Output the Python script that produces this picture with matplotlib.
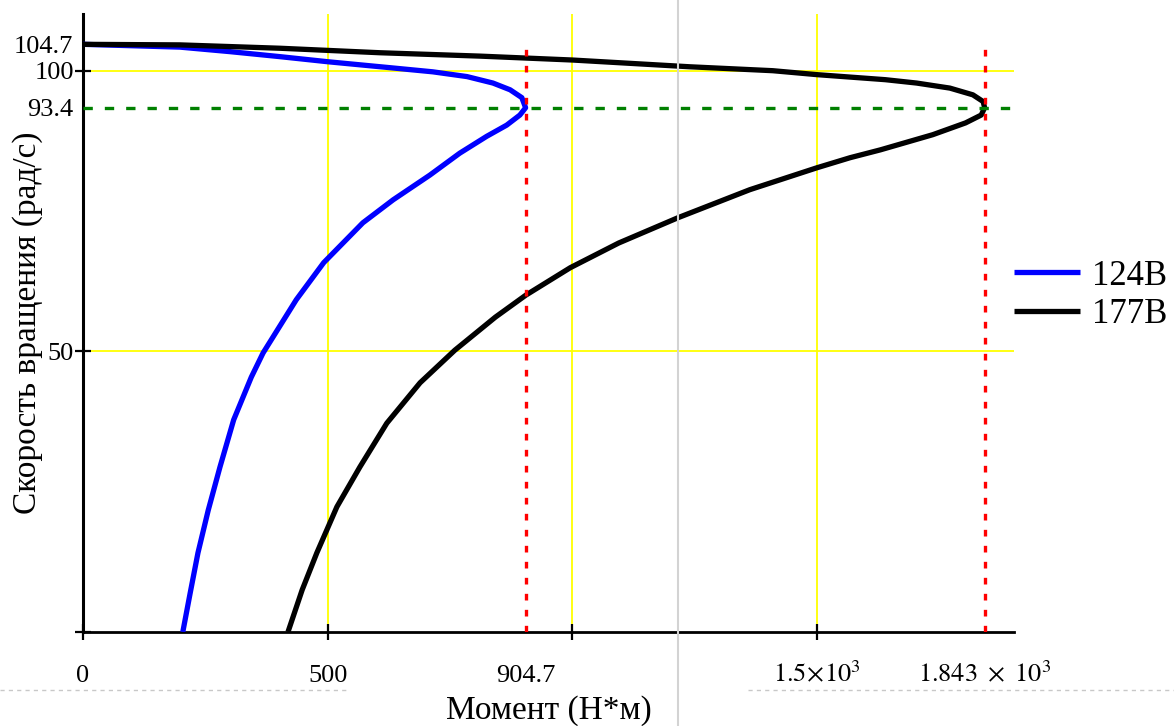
import numpy as np
import matplotlib.pyplot as plt
from matplotlib.lines import Line2D

plt.rcParams['font.family'] = ['Liberation Serif', 'DejaVu Serif']
plt.rcParams['mathtext.fontset'] = 'stix'

# speed (rad/s) and torque (N*m)
w_124 = [0, 6.9, 14.1, 21.7, 29.4, 37.8, 45.4, 49.7, 59.2, 65.8, 72.9, 77.0, 81.4,
         85.3, 88.3, 90.3, 92.1, 93.4, 95.2, 96.6, 97.8, 98.95, 99.8, 100.6,
         101.6, 102.5, 103.4, 104.2, 104.7]
m_124 = [204, 219, 235, 256, 280, 308, 344, 368, 436, 492, 572, 634, 709,
         770, 825, 866, 893, 904.7, 897, 873, 838, 785, 715, 620,
         500, 403, 300, 198, 0]

w_177 = [0, 7.5, 14.1, 22.3, 29.4, 37.2, 44.4, 50.2, 56.1, 60.0, 64.9, 69.3, 73.8,
         78.8, 82.7, 84.5, 85.9, 88.6, 90.7, 92.1, 93.4, 94.5, 95.7, 96.9, 97.8,
         98.4, 99.3, 100.0, 100.7, 101.9, 102.6, 103.2, 104.0, 104.6, 104.7]
m_177 = [419, 448, 478, 519, 566, 621, 689, 760, 843, 905, 996, 1095, 1216,
         1363, 1500, 1568, 1630, 1737, 1804, 1836, 1843, 1840, 1819, 1772, 1704,
         1640, 1500, 1410, 1240, 1001, 811, 607, 403, 198, 0]

labels = ['124В', '177В']
w0 = 104.7
w_crit = 93.4
m_crit = [904.7, 1843]

x_ticks = [0, 500, 1000, 1500]
x_marks = [0, 500, 904.7, 1500, 1843]
x_mark_labels = ['0', '500', '904.7', r'$1.5\!\times\!10^{3}$', r'$1.843\ \times\ 10^{3}$']
y_ticks = [0, 50, 100]
y_tick_labels = ['', '50', '100']
y_marks = [93.4, 104.7]
y_mark_labels = ['93.4', '104.7']

fig = plt.figure(figsize=(11.74, 7.26), dpi=100)
ax = fig.add_axes([0.0707, 0.1295, 0.7930, 0.8512])

# yellow grid
for x in x_ticks[1:]:
    ax.axvline(x, color='#ffff00', lw=1.3, zorder=1)
for y in y_ticks[1:]:
    ax.axhline(y, color='#ffff00', lw=1.3, zorder=1)

ax.plot(m_124, w_124, color='#0000ff', lw=3.8, zorder=3, label=labels[0],
        solid_joinstyle='round', solid_capstyle='butt')
ax.plot(m_177, w_177, color='black', lw=3.8, zorder=3, label=labels[1],
        solid_joinstyle='round', solid_capstyle='butt')

# markers
ax.axhline(w_crit, color='#008000', lw=2.4, ls=(0, (2.8, 3.6)), zorder=4)
for m in m_crit:
    ax.plot([m, m], [0, w0], color='#ff0000', lw=2.4, ls=(0, (2.0, 2.8)), zorder=4)

ax.set_xlim(0, 1903)
ax.set_ylim(0, 110.1)

for s in ['top', 'right']:
    ax.spines[s].set_visible(False)
ax.spines['left'].set_linewidth(2.2)
ax.spines['bottom'].set_linewidth(2.0)

ax.xaxis.remove_overlapping_locs = False
ax.set_xticks(x_ticks)
ax.set_xticklabels([''] * len(x_ticks))
ax.set_xticks(x_marks, minor=True)
ax.set_xticklabels(x_mark_labels, minor=True, fontsize=19)
ax.set_yticks(y_ticks)
ax.set_yticklabels(y_tick_labels, fontsize=19)
ax.set_yticks(y_marks, minor=True)
ax.set_yticklabels(y_mark_labels, minor=True, fontsize=19)

ax.tick_params(axis='x', which='major', direction='inout', length=11, width=1.6)
ax.tick_params(axis='x', which='minor', length=0, pad=36)
for t in ax.xaxis.get_minorticklabels():
    t.set_va('baseline')
ax.tick_params(axis='y', which='major', direction='inout', length=11, width=1.6, pad=1)
ax.tick_params(axis='y', which='minor', length=0, pad=7)

ax.set_xlabel('Момент (Н*м)', fontsize=24)
ax.xaxis.set_label_coords(0.5, -0.102)
ax.set_ylabel('Скорость вращения (рад/с)', fontsize=24)
ax.yaxis.set_label_coords(-0.043, 0.5)

ax.legend(loc='center left', bbox_to_anchor=(1.0, 0.545), frameon=False, fontsize=25,
          handlelength=1.9, handletextpad=0.35, borderpad=0, borderaxespad=0,
          labelspacing=0.15)

# page artifacts from the screenshot
fig.add_artist(Line2D([678 / 1174, 678 / 1174], [0, 1], color='#d3d3d3', lw=1.5))
fig.add_artist(Line2D([0, 350 / 1174], [1 - 690 / 726] * 2, color='#c8c8c8', lw=1, ls=(0, (3, 3))))
fig.add_artist(Line2D([748 / 1174, 1], [1 - 690 / 726] * 2, color='#c8c8c8', lw=1, ls=(0, (3, 3))))

fig.savefig('out.png', dpi=100)
